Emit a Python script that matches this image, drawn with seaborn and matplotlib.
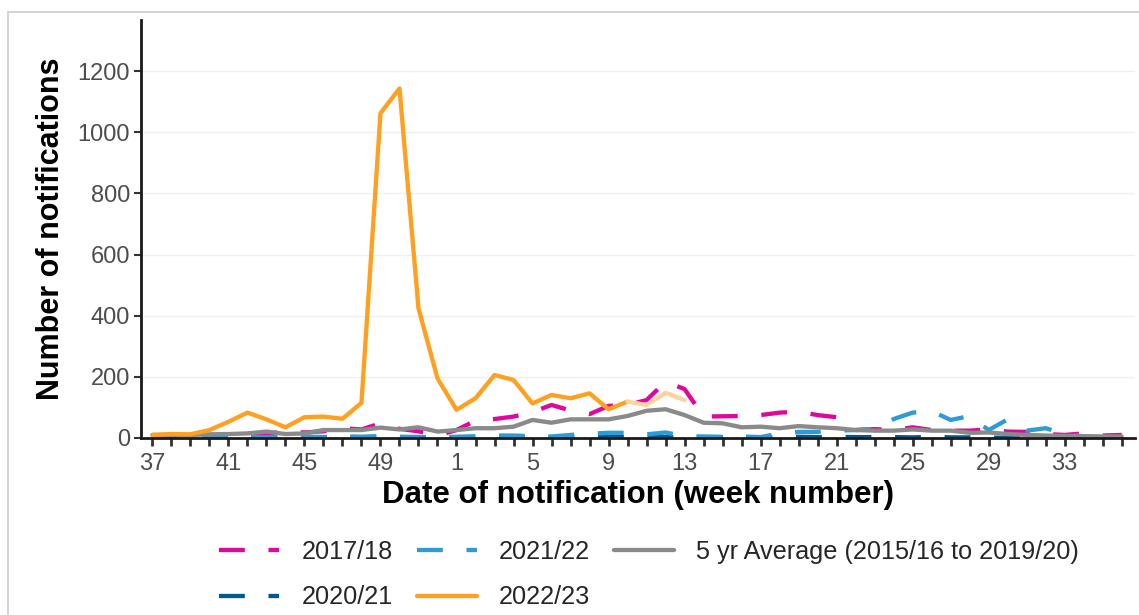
import matplotlib
matplotlib.use("Agg")
import matplotlib.pyplot as plt
from matplotlib.patches import Rectangle
import seaborn as sns
import pandas as pd

# Surveillance weeks: week 37 through week 52, then week 1 through week 36
weeks = list(range(37, 53)) + list(range(1, 37))
tick_weeks = [37, 41, 45, 49, 1, 5, 9, 13, 17, 21, 25, 29, 33]

season_2017_18 = [3, 4, 5, 6, 8, 10, 14, 22, 18, 22, 32, 28, 48, 30, 22, 8,
                  26, 57, 62, 70, 85, 108, 90, 78, 105, 108, 124, 184, 160, 70, 71, 72,
                  75, 83, 86, 75, 68, 26, 29, 26, 35, 26, 24, 24, 28, 21, 20, 13,
                  10, 15, 8, 10]
season_2020_21 = [1, 1, 2, 2, 3, 2, 2, 3, 3, 3, 4, 3, 4, 3, 3, 2,
                  2, 2, 2, 3, 3, 3, 3, 3, 3, 3, 3, 3, 2, 2, 2, 2,
                  2, 2, 4, 3, 4, 3, 3, 3, 2, 4, 2, 2, 1, 1, 1, 1,
                  1, 1, 1, 1]
season_2021_22 = [2, 2, 2, 2, 3, 3, 3, 3, 4, 3, 5, 4, 6, 4, 3, 3,
                  4, 6, 8, 8, 6, 5, 10, 14, 17, 17, 12, 18, 6, 5, 4, 5,
                  3, 15, 20, 20, 24, 26, 30, 62, 83, 88, 59, 72, 26, 61, 24, 32,
                  13, 5, 3, 15]
# 2022/23: confirmed counts to week 10, provisional counts weeks 10-13
season_2022_23 = [10, 13, 12, 26, 53, 83, 61, 35, 68, 70, 63, 115, 1062, 1143, 424, 195,
                  92, 130, 206, 190, 113, 141, 130, 146, 94, 119]
provisional_2022_23 = [119, 108, 148, 124]
five_yr_avg = [10, 10, 10, 12, 13, 15, 21, 13, 15, 26, 26, 26, 34, 28, 35, 21,
               26, 32, 32, 37, 59, 50, 61, 61, 61, 72, 89, 94, 75, 50, 48, 35,
               37, 32, 39, 35, 32, 26, 24, 24, 28, 24, 24, 17, 18, 13, 10, 8,
               7, 6, 5, 5]

series = {
    "2017/18": season_2017_18,
    "2020/21": season_2020_21,
    "2021/22": season_2021_22,
    "5 yr Average (2015/16 to 2019/20)": five_yr_avg,
    "2022/23": season_2022_23,
}
colors = {
    "2017/18": "#E0079A",
    "2020/21": "#005A8F",
    "2021/22": "#2E9BD8",
    "5 yr Average (2015/16 to 2019/20)": "#8A8A8A",
    "2022/23": "#FFA020",
}
dashed = {"2017/18", "2020/21", "2021/22"}

sns.set_theme(style="white")
plt.rcParams["font.family"] = ["Liberation Sans", "DejaVu Sans"]

fig = plt.figure(figsize=(11.39, 6.15), dpi=100)
ax = fig.add_axes([141 / 1139, 1 - 438 / 615, (1135 - 141) / 1139, (438 - 20) / 615])

lw = 3.1
dash_pattern = (6, 5.5)
for name, vals in series.items():
    df = pd.DataFrame({"idx": range(len(vals)), "count": vals})
    sns.lineplot(data=df, x="idx", y="count", ax=ax, color=colors[name],
                 linewidth=lw, label=name)
    if name in dashed:
        ax.lines[-1].set_dashes(dash_pattern)
        ax.lines[-1].set_dash_capstyle("butt")

prov_start = len(season_2022_23) - 1
df_prov = pd.DataFrame({"idx": range(prov_start, prov_start + len(provisional_2022_23)),
                        "count": provisional_2022_23})
sns.lineplot(data=df_prov, x="idx", y="count", ax=ax, color="#FFD29E",
             linewidth=lw, legend=False)

ax.set_xlim(-0.6, 51.7)
ax.set_ylim(0, 1367)

ax.set_xticks(range(len(weeks)))
ax.set_xticklabels([str(w) if w in tick_weeks else "" for w in weeks])
ax.set_yticks([0, 200, 400, 600, 800, 1000, 1200])
ax.yaxis.grid(True, color="#F0F0F0", linewidth=1)
ax.xaxis.grid(False)
ax.set_axisbelow(True)

for side in ("top", "right"):
    ax.spines[side].set_visible(False)
for side in ("left", "bottom"):
    ax.spines[side].set_color("#1A1A1A")
    ax.spines[side].set_linewidth(2)

ax.tick_params(axis="x", bottom=True, length=6, width=2, color="#333333",
               labelsize=17, labelcolor="#4D4D4D", pad=4.5)
ax.tick_params(axis="y", left=True, length=5, width=1.5, color="#333333",
               labelsize=17, labelcolor="#4D4D4D", pad=3)

ax.set_xlabel("Date of notification (week number)", fontsize=22.5, fontweight="bold",
              color="black", labelpad=4)
ax.set_ylabel("Number of notifications", fontsize=22, fontweight="bold",
              color="black", labelpad=8)

ax.get_legend().remove()
handles, labels = ax.get_legend_handles_labels()
lookup = dict(zip(labels, handles))
order = ["2017/18", "2020/21", "2021/22", "2022/23", "5 yr Average (2015/16 to 2019/20)"]
fig.legend([lookup[k] for k in order], order, loc="center",
           bbox_to_anchor=(0.5698, 1 - 574.5 / 615), ncol=3, frameon=False, fontsize=18.2,
           handlelength=2.37, handletextpad=0.87, columnspacing=0.95, labelspacing=0.86)

fig.patches.append(Rectangle((8 / 1139, -0.05), 1.2, 1 - 12 / 615 + 0.05,
                             transform=fig.transFigure, fill=False,
                             edgecolor="#CCCCCC", linewidth=1.2, figure=fig))

fig.savefig("out.png", dpi=100)
